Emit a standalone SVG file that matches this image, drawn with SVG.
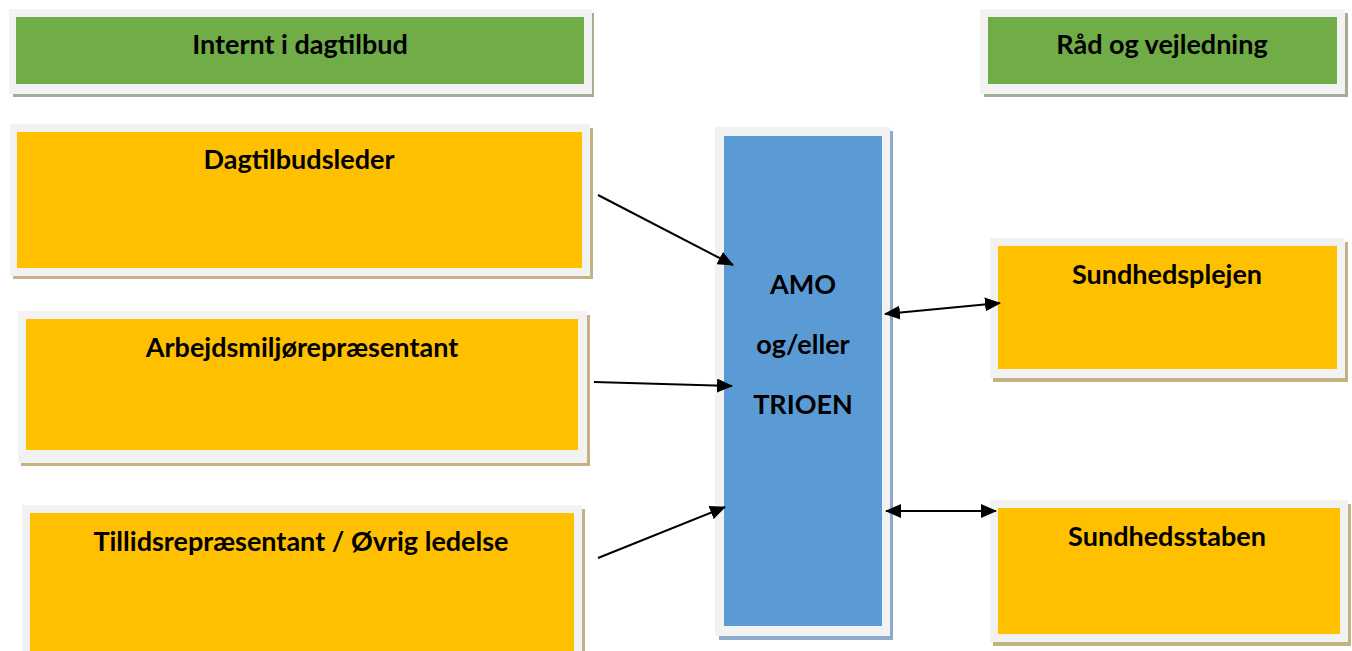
<svg xmlns="http://www.w3.org/2000/svg" width="1352" height="651" viewBox="0 0 1352 651">
<style>
.frame{fill:#f2f2f2}
.shG{fill:#a3ad95}
.shY{fill:#c4b283}
.shB{fill:#8eaacb}
.green{fill:#70ad47}
.yellow{fill:#ffc000}
.blue{fill:#5b9bd5}
.lbl{font-family:Lato,"Liberation Sans",sans-serif;font-weight:bold;font-size:27px;fill:#000;text-anchor:middle}
.conn{stroke:#000;stroke-width:2;fill:none}
</style>
<defs>
<marker id="ah" viewBox="0 0 16 14" refX="15" refY="7" markerWidth="16" markerHeight="14" markerUnits="userSpaceOnUse" orient="auto-start-reverse">
<path d="M0,0 L16,7 L0,14 Z" fill="#000"/>
</marker>
</defs>
<rect width="1352" height="651" fill="#fff"/>

<g id="internt">
<rect class="shG" x="13" y="13" width="581" height="84"/>
<rect class="frame" x="9" y="9" width="583" height="85"/>
<rect class="green" x="16" y="17" width="568" height="67"/>
<text class="lbl" x="300" y="54">Internt i dagtilbud</text>
</g>

<g id="raad">
<rect class="shG" x="984" y="13" width="364" height="84"/>
<rect class="frame" x="980" y="9" width="365" height="85"/>
<rect class="green" x="988" y="17" width="349" height="67"/>
<text class="lbl" x="1162" y="54">Råd og vejledning</text>
</g>

<g id="dagtilbudsleder">
<rect class="shY" x="13" y="128" width="580" height="151"/>
<rect class="frame" x="10" y="124" width="580" height="152"/>
<rect class="yellow" x="17" y="132" width="565" height="136"/>
<text class="lbl" x="299" y="169">Dagtilbudsleder</text>
</g>

<g id="arbejdsmiljo">
<rect class="shY" x="21" y="315" width="569" height="151"/>
<rect class="frame" x="18" y="311" width="569" height="152"/>
<rect class="yellow" x="26" y="319" width="552" height="131"/>
<text class="lbl" x="302" y="357">Arbejdsmiljørepræsentant</text>
</g>

<g id="tillid">
<rect class="shY" x="25" y="509" width="560" height="150"/>
<rect class="frame" x="22" y="505" width="560" height="150"/>
<rect class="yellow" x="30" y="513" width="544" height="140"/>
<text class="lbl" x="301" y="551">Tillidsrepræsentant / Øvrig ledelse</text>
</g>

<g id="amo">
<rect class="shB" x="719" y="131" width="174" height="509"/>
<rect class="frame" x="715" y="127" width="175" height="509"/>
<rect class="blue" x="724" y="136" width="158" height="490"/>
<text class="lbl" x="803" y="294">AMO</text>
<text class="lbl" x="803" y="354">og/eller</text>
<text class="lbl" x="803" y="414">TRIOEN</text>
</g>

<g id="sundhedsplejen">
<rect class="shY" x="993" y="242" width="355" height="140"/>
<rect class="frame" x="990" y="238" width="355" height="140"/>
<rect class="yellow" x="998" y="246" width="339" height="123"/>
<text class="lbl" x="1167" y="284">Sundhedsplejen</text>
</g>

<g id="sundhedsstaben">
<rect class="shY" x="993" y="504" width="358" height="142"/>
<rect class="frame" x="990" y="500" width="358" height="142"/>
<rect class="yellow" x="998" y="508" width="342" height="126"/>
<text class="lbl" x="1167" y="546">Sundhedsstaben</text>
</g>

<g id="connectors">
<line class="conn" x1="598" y1="195" x2="733" y2="265" marker-end="url(#ah)"/>
<line class="conn" x1="594" y1="382" x2="732" y2="386" marker-end="url(#ah)"/>
<line class="conn" x1="598" y1="558" x2="725" y2="507" marker-end="url(#ah)"/>
<line class="conn" x1="885" y1="314" x2="1000" y2="303" marker-start="url(#ah)" marker-end="url(#ah)"/>
<line class="conn" x1="886" y1="511" x2="996" y2="511" marker-start="url(#ah)" marker-end="url(#ah)"/>
</g>
</svg>
